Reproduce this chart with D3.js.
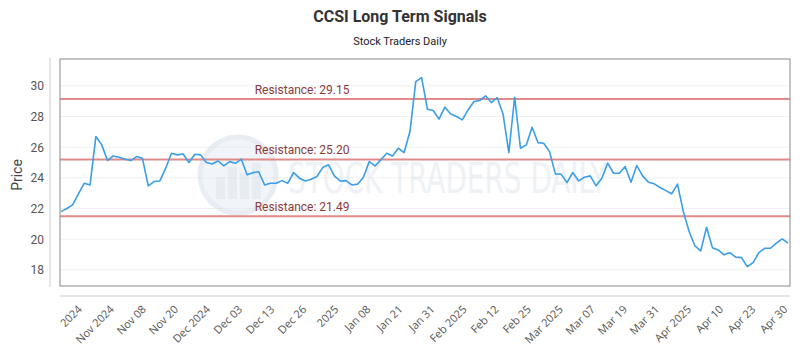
<!DOCTYPE html>
<html><head><meta charset="utf-8">
<script src="https://cdn.jsdelivr.net/npm/d3@7"></script>
<style>body{margin:0;background:#fff}svg{display:block}</style>
</head><body>
<svg id="chart" width="800" height="350"></svg>
<script>
const prices = [21.8,22.0,22.24,22.95,23.65,23.54,26.7,26.15,25.13,25.43,25.35,25.22,25.13,25.39,25.28,23.48,23.76,23.8,24.63,25.6,
25.5,25.56,25.0,25.54,25.5,25.0,24.9,25.1,24.78,25.06,24.95,25.22,24.2,24.34,24.4,23.54,23.65,23.65,23.82,23.65,
24.35,23.98,23.8,23.91,24.09,24.67,24.85,24.13,23.8,23.82,23.54,23.59,24.04,25.06,24.78,25.17,25.6,25.43,25.93,25.65,
27.02,30.28,30.54,28.48,28.39,27.83,28.61,28.17,28.0,27.78,28.43,28.98,29.04,29.35,28.91,29.24,28.17,25.65,29.26,25.93,
26.15,27.3,26.3,26.26,25.71,24.26,24.24,23.69,24.35,23.8,24.04,24.13,23.48,23.98,24.96,24.3,24.3,24.74,23.72,24.8,
24.13,23.72,23.61,23.37,23.17,22.96,23.59,21.8,20.5,19.56,19.24,20.78,19.45,19.3,18.98,19.13,18.83,18.8,18.21,18.48,
19.13,19.41,19.41,19.74,20.02,19.74];
const xLabels = ["2024","Nov 2024","Nov 08","Nov 20","Dec 2024","Dec 03","Dec 13","Dec 26","2025","Jan 08","Jan 21","Jan 31",
"Feb 2025","Feb 12","Feb 25","Mar 2025","Mar 07","Mar 19","Mar 31","Apr 2025","Apr 10","Apr 23","Apr 30"];
const yTicks = [18,20,22,24,26,28,30];
const resistance = [29.15, 25.20, 21.49];

const svg = d3.select("#chart");
const L = 60, R = 790, T = 59, B = 286;

const x = d3.scaleLinear().domain([0, prices.length - 1]).range([L + 1, R - 2]);
const y = d3.scaleLinear().domain([16.95, 31.75]).range([B, T]);
const xt = d3.scalePoint().domain(xLabels).range([x(3.3), x(124.6)]);

// title
svg.append("text").attr("x", 400).attr("y", 22).attr("text-anchor", "middle")
  .attr("font-family", "Roboto").attr("font-weight", "bold").attr("font-size", 16).attr("fill", "#333")
  .text("CCSI Long Term Signals");
svg.append("text").attr("x", 400).attr("y", 45).attr("text-anchor", "middle")
  .attr("font-family", "Roboto").attr("font-size", 11).attr("fill", "#222")
  .text("Stock Traders Daily");

// gridlines
svg.append("g").selectAll("line").data(yTicks).join("line")
  .attr("x1", L).attr("x2", R).attr("y1", d => y(d)).attr("y2", d => y(d))
  .attr("stroke", "#f0f0f0").attr("stroke-width", 1);

// watermark
const wm = svg.append("g").attr("opacity", 0.5);
wm.append("circle").attr("cx", 238).attr("cy", 175).attr("r", 38)
  .attr("fill", "#e4ebf2").attr("stroke", "#d4dde8").attr("stroke-width", 5);
[[-22,12],[-10,22],[2,16],[14,26]].forEach(([dx,h]) => {
  wm.append("rect").attr("x", 238 + dx).attr("y", 199 - h - 10).attr("width", 9).attr("height", h + 10).attr("fill", "#d0dae6");
});
wm.append("text").attr("x", 288).attr("y", 193).attr("font-family", "DejaVu Sans Condensed, DejaVu Sans")
  .attr("font-size", 43).attr("fill", "#dfe6ee").attr("textLength", 319).attr("lengthAdjust", "spacingAndGlyphs")
  .text("STOCK TRADERS DAILY");

// resistance lines
const rg = svg.append("g");
rg.selectAll("line").data(resistance).join("line")
  .attr("x1", L).attr("x2", R).attr("y1", d => y(d)).attr("y2", d => y(d))
  .attr("stroke", "#e08a8a").attr("stroke-width", 2);
rg.selectAll("text").data(resistance).join("text")
  .attr("x", x(33.3)).attr("y", d => y(d) - 5)
  .attr("font-family", "Roboto").attr("font-size", 12).attr("fill", "#8b3a3a")
  .text(d => "Resistance: " + d.toFixed(2));

// price line
svg.append("path").datum(prices)
  .attr("d", d3.line().x((d, i) => x(i)).y(d => y(d)))
  .attr("fill", "none").attr("stroke", "#3a9ee8").attr("stroke-width", 1.6).attr("stroke-linejoin", "round");

// plot frame
svg.append("rect").attr("x", L).attr("y", T).attr("width", R - L).attr("height", B - T)
  .attr("fill", "none").attr("stroke", "#888").attr("stroke-width", 1);

// y axis
const ya = svg.append("g").attr("transform", `translate(50,0)`)
  .call(d3.axisLeft(y).tickValues(yTicks).tickSize(0).tickPadding(6));
ya.select(".domain").attr("d", `M0,${T - 1}V${B + 1}`).attr("stroke", "#ccc");
ya.selectAll("text").attr("font-family", "Roboto").attr("font-size", 12).attr("fill", "#555");

svg.append("text").attr("transform", "translate(22,175) rotate(-90)").attr("text-anchor", "middle")
  .attr("font-family", "Roboto").attr("font-size", 14).attr("fill", "#444").text("Price");

// x axis
const xa = svg.append("g").attr("transform", `translate(0,296)`)
  .call(d3.axisBottom(xt).tickSize(0).tickPadding(0));
xa.select(".domain").attr("d", `M${L},0H${R}`).attr("stroke", "#ccc");
xa.selectAll("text").attr("font-family", "Open Sans").attr("font-size", 11).attr("fill", "#555")
  .attr("text-anchor", "end").attr("dy", null)
  .attr("transform", "translate(2,14) rotate(-45)");
</script>
</body></html>
